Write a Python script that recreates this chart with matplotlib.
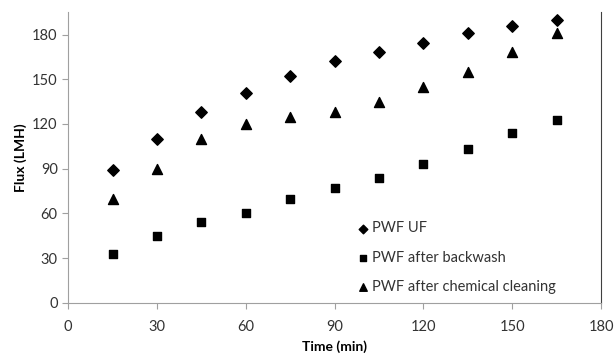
#Recreating the flux vs time scatter graph
import numpy as np
import matplotlib.pyplot as plt

plt.rcParams['font.family'] = ['Lato', 'DejaVu Sans']

#data
time = [15, 30, 45, 60, 75, 90, 105, 120, 135, 150, 165]
pwf_uf = [89, 110, 128, 141, 152, 162, 168, 174, 181, 186, 190]
pwf_backwash = [33, 45, 54, 60, 70, 77, 84, 93, 103, 114, 123]
pwf_chemical = [70, 90, 110, 120, 125, 128, 135, 145, 155, 168, 181]

fig = plt.figure(figsize=(6.14, 3.58), dpi=100)
ax = fig.add_axes([0.111, 0.154, 0.868, 0.812])

ax.scatter(time, pwf_uf, marker='D', s=34, color='black', label='PWF UF')
ax.scatter(time, pwf_backwash, marker='s', s=32, color='black', label='PWF after backwash')
ax.scatter(time, pwf_chemical, marker='^', s=52, color='black', label='PWF after chemical cleaning')

ax.set_xlim(0, 180)
ax.set_ylim(0, 195)
ax.set_xticks(np.arange(0, 181, 30))
ax.set_yticks(np.arange(0, 181, 30))

#axis styling like excel
ax.spines['top'].set_visible(False)
ax.spines['left'].set_color('#a0a0a0')
ax.spines['bottom'].set_color('#a0a0a0')
ax.spines['right'].set_color('#404040')
ax.tick_params(colors='#a0a0a0', labelcolor='#333333', labelsize=10.5, length=4)
ax.tick_params(axis='x', pad=8)

ax.set_xlabel('Time (min)', fontweight='bold', fontsize=10, labelpad=5)
ax.set_ylabel('Flux (LMH)', fontweight='bold', fontsize=10, labelpad=4)

ax.legend(loc='lower right', bbox_to_anchor=(0.94, -0.015), frameon=False, fontsize=10.5,
          handletextpad=0.1, handlelength=1.0, labelspacing=1.05, markerscale=0.75,
          labelcolor='#333333')

plt.savefig('out.png', dpi=100)
